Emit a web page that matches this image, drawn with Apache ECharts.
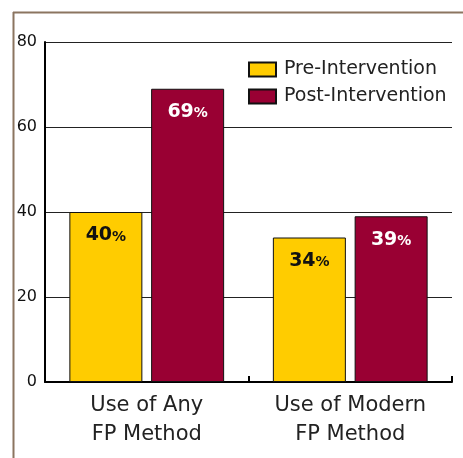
<!DOCTYPE html>
<html><head><meta charset="utf-8">
<script src="https://cdn.jsdelivr.net/npm/echarts@6/dist/echarts.min.js"></script>
<style>html,body{margin:0;padding:0;background:#fff}#c{width:463px;height:458px}</style>
</head><body><div id="c"></div>
<script>
const categories = ['Use of Any\nFP Method', 'Use of Modern\nFP Method'];
const preValues = [40, 34];
const postValues = [69, 39];
const seriesNames = ['Pre-Intervention', 'Post-Intervention'];
const yTicks = [0, 20, 40, 60, 80];

const chart = echarts.init(document.getElementById('c'), null, {renderer: 'canvas'});
const FONT = '"DejaVu Sans", "Noto Sans", sans-serif';
function lbl(color) {
  return {
    show: true, position: 'insideTop', distance: 14,
    formatter: p => '{n|' + p.value + '}{p|%}',
    rich: {
      n: {fontFamily: FONT, fontWeight: 'bold', fontSize: 19, color: color},
      p: {fontFamily: FONT, fontWeight: 'bold', fontSize: 14, color: color, padding: [3, 0, 0, 0]}
    }
  };
}
chart.setOption({
  animation: false,
  grid: {left: 45, right: 11, top: 42, bottom: 76},
  legend: {
    orient: 'vertical', left: 248, top: 60, padding: 0, itemWidth: 27, itemHeight: 14, itemGap: 8,
    icon: 'rect',
    textStyle: {fontFamily: FONT, fontSize: 19, color: '#222', padding: [0, 0, 0, 3]},
    data: seriesNames
  },
  xAxis: {
    type: 'category', data: categories,
    axisLine: {lineStyle: {color: '#000', width: 2}},
    axisTick: {show: true, inside: true, interval: 0, length: 6, lineStyle: {color: '#000', width: 2}},
    axisLabel: {fontFamily: FONT, fontSize: 21, color: '#222', lineHeight: 29, margin: 9, interval: 0, hideOverlap: false}
  },
  yAxis: {
    type: 'value', min: yTicks[0], max: yTicks[yTicks.length - 1], interval: 20,
    axisLine: {show: true, lineStyle: {color: '#000', width: 2}},
    axisTick: {show: false},
    axisLabel: {fontFamily: FONT, fontSize: 16, color: '#111', margin: 8},
    splitLine: {lineStyle: {color: '#222', width: 1}}
  },
  series: [
    {name: seriesNames[0], type: 'bar', data: preValues, barWidth: 73, barGap: '12%',
     itemStyle: {color: '#FFCC00', borderColor: '#111', borderWidth: 1}, label: lbl('#111')},
    {name: seriesNames[1], type: 'bar', data: postValues, barWidth: 73,
     itemStyle: {color: '#990033', borderColor: '#111', borderWidth: 1}, label: lbl('#fff')}
  ],
  graphic: [
    {type: 'line', shape: {x1: 13.5, y1: 12, x2: 13.5, y2: 458}, style: {stroke: '#8b7560', lineWidth: 2}},
    {type: 'line', shape: {x1: 13, y1: 12.5, x2: 463, y2: 12.5}, style: {stroke: '#8b7560', lineWidth: 2}}
  ]
});
</script></body></html>
